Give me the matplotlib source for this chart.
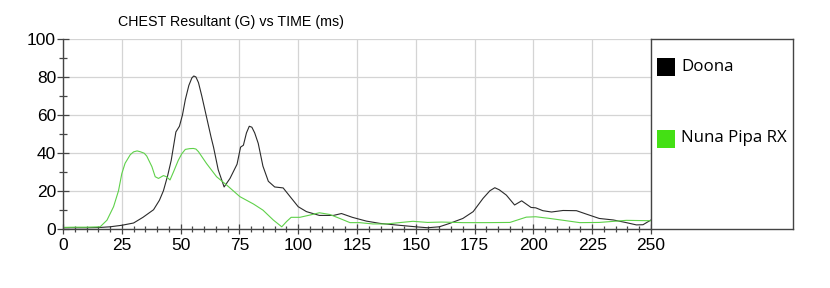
import numpy as np
import matplotlib.pyplot as plt
import matplotlib as mpl
from matplotlib.patches import Rectangle
from matplotlib.ticker import MultipleLocator

mpl.rcParams.update({"font.family": "Liberation Sans"})

TITLE = "CHEST Resultant (G) vs TIME (ms)"
SERIES = ["Doona", "Nuna Pipa RX"]

# Doona (black) curve
doona_t = [0, 5, 10, 15, 20, 25, 30, 34, 38.5, 41, 42.7, 44.5, 46, 48, 49.5,
           50.8, 52, 53.5, 54.8, 55.6, 56.5, 57.6, 59, 61, 63, 64, 66, 68.5,
           71, 74, 75.5, 76.7, 78, 79.2, 80.3, 81.5, 83, 85, 87.3, 90, 93.6,
           96.5, 100, 103.5, 109, 115, 118.4, 123, 129, 134.7, 143, 150, 155,
           160, 164.4, 170, 174.4, 178.6, 181.5, 183.6, 185.5, 188.5, 192, 195,
           199, 201, 204, 207.7, 212.6, 218.3, 222.5, 228, 234, 239.5, 243.8,
           246.6, 250]
doona_g = [0.5, 0.5, 0.5, 0.6, 1, 1.8, 3, 6, 10, 15, 20, 28, 36, 51, 54,
           60, 68, 75.5, 79.5, 80.5, 80, 77, 70, 59, 48, 43, 31, 22,
           26.5, 34, 43, 44, 50.5, 54, 53.5, 50.5, 45, 33, 25, 22, 21.5,
           17, 11.6, 9, 7, 7, 8, 6, 4, 2.8, 1.8, 1, 0.5,
           1, 2.8, 5.4, 9, 16, 20, 21.6, 20.5, 17.7, 12.5, 14.7,
           11.2, 11, 9.5, 8.8, 9.6, 9.5, 7.7, 5.4, 4.6, 3.2, 2,
           2.1, 4.6]

# Nuna Pipa RX (green) curve
nuna_t = [0, 5, 10, 15.8, 18.7, 21.5, 23.6, 25, 26.4, 28.6, 30, 31.5, 32.8,
          34.5, 35.6, 37.8, 39.2, 40.6, 42.7, 44, 45.5, 47, 49, 50.5, 52, 53.8,
          55.4, 56.5, 57.6, 61, 65.3, 69.6, 75.2, 81, 85, 89.4, 93, 95, 97,
          100.7, 105, 109, 113.4, 117.7, 122, 126, 131.8, 137.5, 143, 148.8,
          155, 161, 170, 180, 190, 197, 201, 207, 214, 219.7, 228, 239.5, 250]
nuna_g = [0.7, 0.8, 0.8, 1, 4.5, 11.6, 20, 29, 34.5, 39, 40.5, 41, 40.6,
          39.8, 38.3, 32.7, 27.4, 26.5, 28, 27.4, 25.7, 30, 36, 39.5, 41.8, 42.2,
          42.3, 42, 40.6, 34.4, 27.4, 23, 16.9, 13, 9.8, 4.6, 1, 3.7, 6,
          6, 7.2, 8.4, 7.5, 5.4, 3.2, 3.2, 2.5, 2.5, 3.2, 3.9,
          3.3, 3.5, 3.2, 3.2, 3.3, 6.1, 6.3, 5.4, 4.2, 3.2, 3.3, 4.4, 4.2]

COLORS = ["#2b2b2b", "#5fd14a"]
LEGEND_COLORS = ["#000000", "#44e014"]

fig = plt.figure(figsize=(8.30, 2.88), dpi=100)
ax = fig.add_axes([63 / 830, 1 - 228.7 / 288, 588 / 830, 189.7 / 288])

ax.plot(doona_t, doona_g, color=COLORS[0], linewidth=0.8)
ax.plot(nuna_t, nuna_g, color=COLORS[1], linewidth=0.8)

ax.set_xlim(0, 250)
ax.set_ylim(0, 100)
ax.xaxis.set_major_locator(MultipleLocator(25))
ax.xaxis.set_minor_locator(MultipleLocator(5))
ax.yaxis.set_major_locator(MultipleLocator(20))
ax.yaxis.set_minor_locator(MultipleLocator(10))
ax.grid(True, which="major", color="#d4d4d4", linewidth=0.9)
ax.set_axisbelow(True)
ax.tick_params(axis="x", which="major", direction="inout", length=7.5,
               width=0.9, color="#444444", labelsize=12.5, pad=3)
ax.tick_params(axis="x", which="minor", direction="inout", length=5,
               width=0.9, color="#444444")
ax.tick_params(axis="y", which="major", direction="inout", length=8,
               width=0.9, color="#444444", labelsize=12.5, pad=1)
ax.tick_params(axis="y", which="minor", direction="inout", length=5.5,
               width=0.9, color="#444444")
for s in ["top", "right"]:
    ax.spines[s].set_visible(False)
for s in ["left", "bottom"]:
    ax.spines[s].set_color("#444444")
    ax.spines[s].set_linewidth(1.0)

fig.text(231 / 830, 1 - 22 / 288, TITLE, ha="center", va="center",
         fontsize=10.3)

# legend panel drawn as a boxed axes to the right
lax = fig.add_axes([651 / 830, 1 - 228.7 / 288, 141.5 / 830, 189.7 / 288])
lax.set_xticks([])
lax.set_yticks([])
for s in lax.spines.values():
    s.set_color("#444444")
    s.set_linewidth(1.0)
lax.set_xlim(0, 141.5)
lax.set_ylim(189.7, 0)
for name, col, yc in zip(SERIES, LEGEND_COLORS, [28, 99.5]):
    lax.add_patch(Rectangle((6, yc - 9), 18, 18, facecolor=col,
                            edgecolor="none"))
    lax.text(30, yc, name, ha="left", va="center", fontsize=12.2,
             family="Open Sans")

fig.savefig("out.png", dpi=100)
